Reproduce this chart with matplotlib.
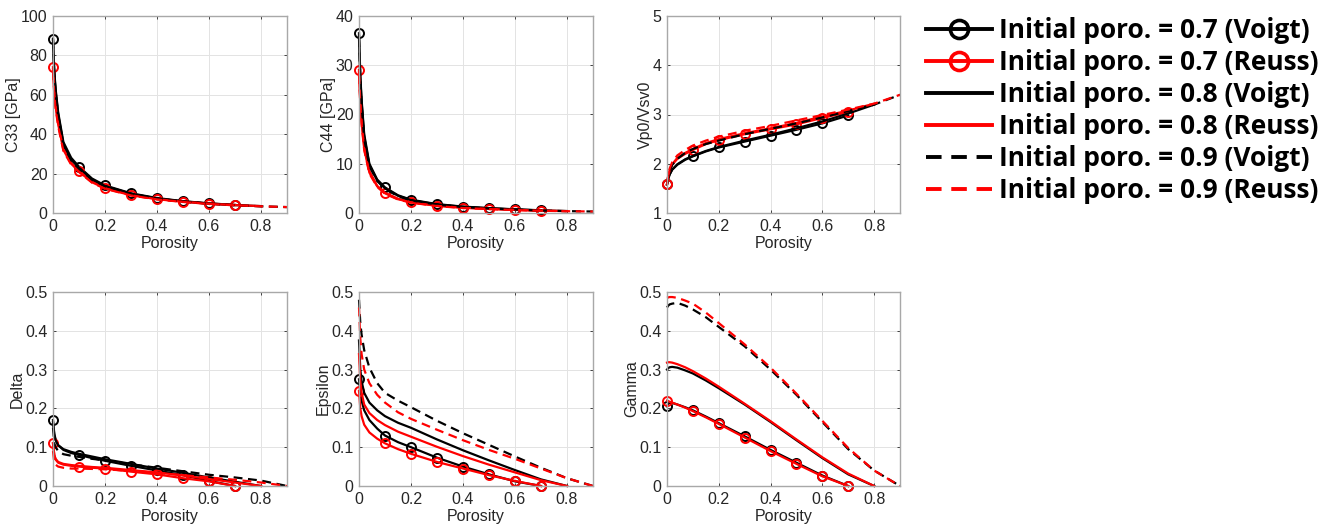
import numpy as np
import matplotlib
matplotlib.use("Agg")
import matplotlib.pyplot as plt
from matplotlib.lines import Line2D

# ============================ Data ============================
poro = [0, 0.005, 0.01, 0.02, 0.04, 0.07, 0.1, 0.15, 0.2, 0.3, 0.4, 0.5, 0.6, 0.7, 0.8, 0.9]
mark_idx = [0, 6, 8, 9, 10, 11, 12, 13]   # markers at 0, 0.1, ..., 0.7

labels = ["Initial poro. = 0.7 (Voigt)", "Initial poro. = 0.7 (Reuss)",
          "Initial poro. = 0.8 (Voigt)", "Initial poro. = 0.8 (Reuss)",
          "Initial poro. = 0.9 (Voigt)", "Initial poro. = 0.9 (Reuss)"]

# C33 [GPa]
c33_v7 = [88.5, 72, 63, 51, 36, 28, 23.5, 17.5, 14, 10, 7.6, 6.0, 4.9, 4.1]
c33_r7 = [74, 62, 55, 46, 33, 25.5, 21.5, 16, 12.8, 9.2, 7.1, 5.8, 4.8, 4.1]
c33_v8 = [88, 71, 62, 50, 35, 27, 23, 17, 13.7, 9.8, 7.4, 5.9, 4.8, 4.0, 3.5]
c33_r8 = [73, 61, 54, 45, 32, 25, 21, 15.6, 12.5, 9.0, 7.0, 5.7, 4.7, 4.0, 3.5]
c33_v9 = [88, 70, 61, 49, 34.5, 26.5, 22.5, 16.8, 13.5, 9.7, 7.3, 5.8, 4.7, 3.9, 3.4, 3.0]
c33_r9 = [72, 60, 53, 44, 31.5, 24.5, 20.8, 15.4, 12.3, 8.9, 6.9, 5.6, 4.6, 3.9, 3.4, 3.0]

# C44 [GPa]
c44_v7 = [36.5, 28, 23, 16, 10, 6.8, 5.2, 3.6, 2.7, 1.8, 1.3, 1.0, 0.75, 0.55]
c44_r7 = [29, 23, 19, 13.5, 8.5, 5.5, 4.1, 2.9, 2.2, 1.5, 1.1, 0.85, 0.65, 0.5]
c44_v8 = [36, 27.5, 22.5, 15.5, 9.7, 6.6, 5.0, 3.5, 2.6, 1.75, 1.25, 0.95, 0.72, 0.52, 0.4]
c44_r8 = [28.5, 22.5, 18.5, 13, 8.2, 5.4, 4.0, 2.8, 2.15, 1.45, 1.05, 0.82, 0.62, 0.48, 0.38]
c44_v9 = [35.5, 27, 22, 15, 9.5, 6.5, 4.9, 3.4, 2.55, 1.7, 1.2, 0.92, 0.7, 0.5, 0.38, 0.3]
c44_r9 = [28, 22, 18, 12.8, 8.0, 5.3, 3.9, 2.75, 2.1, 1.4, 1.0, 0.8, 0.6, 0.46, 0.36, 0.3]

# Vp0/Vsv0
vpvs_v7 = [1.58, 1.7, 1.78, 1.88, 1.98, 2.08, 2.15, 2.25, 2.33, 2.45, 2.57, 2.69, 2.82, 2.98]
vpvs_r7 = [1.58, 1.75, 1.85, 1.98, 2.1, 2.2, 2.28, 2.4, 2.48, 2.6, 2.7, 2.8, 2.93, 3.05]
vpvs_v8 = [1.58, 1.7, 1.78, 1.88, 1.99, 2.09, 2.16, 2.26, 2.34, 2.47, 2.59, 2.72, 2.86, 3.02, 3.2]
vpvs_r8 = [1.58, 1.76, 1.86, 1.99, 2.12, 2.22, 2.3, 2.42, 2.5, 2.62, 2.72, 2.83, 2.96, 3.08, 3.22]
vpvs_v9 = [1.58, 1.75, 1.85, 1.98, 2.1, 2.22, 2.3, 2.4, 2.47, 2.6, 2.71, 2.82, 2.94, 3.07, 3.2, 3.4]
vpvs_r9 = [1.58, 1.78, 1.9, 2.03, 2.17, 2.28, 2.37, 2.47, 2.55, 2.67, 2.77, 2.88, 2.99, 3.1, 3.22, 3.4]

# Delta
delta_v7 = [0.17, 0.135, 0.12, 0.105, 0.093, 0.085, 0.08, 0.072, 0.065, 0.052, 0.04, 0.028, 0.013, 0.0]
delta_r7 = [0.11, 0.08, 0.068, 0.06, 0.055, 0.052, 0.05, 0.047, 0.045, 0.037, 0.03, 0.02, 0.012, 0.0]
delta_v8 = [0.165, 0.13, 0.118, 0.105, 0.095, 0.088, 0.083, 0.076, 0.069, 0.057, 0.045, 0.034, 0.022, 0.011, 0.0]
delta_r8 = [0.11, 0.08, 0.07, 0.062, 0.057, 0.054, 0.052, 0.049, 0.047, 0.041, 0.035, 0.027, 0.018, 0.009, 0.0]
delta_v9 = [0.15, 0.11, 0.1, 0.09, 0.082, 0.078, 0.075, 0.07, 0.066, 0.056, 0.047, 0.038, 0.029, 0.022, 0.014, 0.0]
delta_r9 = [0.09, 0.06, 0.055, 0.05, 0.047, 0.045, 0.045, 0.044, 0.043, 0.039, 0.034, 0.028, 0.022, 0.016, 0.009, 0.0]

# Epsilon
eps_v7 = [0.275, 0.24, 0.22, 0.195, 0.17, 0.148, 0.13, 0.113, 0.1, 0.073, 0.05, 0.03, 0.012, 0.0]
eps_r7 = [0.245, 0.2, 0.18, 0.158, 0.138, 0.122, 0.11, 0.095, 0.083, 0.062, 0.045, 0.028, 0.013, 0.0]
eps_v8 = [0.375, 0.3, 0.27, 0.24, 0.215, 0.195, 0.18, 0.163, 0.15, 0.12, 0.092, 0.066, 0.041, 0.017, 0.0]
eps_r8 = [0.34, 0.27, 0.24, 0.21, 0.188, 0.17, 0.157, 0.14, 0.127, 0.101, 0.077, 0.055, 0.035, 0.015, 0.0]
eps_v9 = [0.48, 0.42, 0.39, 0.35, 0.305, 0.265, 0.24, 0.22, 0.203, 0.168, 0.136, 0.106, 0.076, 0.047, 0.02, 0.0]
eps_r9 = [0.46, 0.38, 0.34, 0.3, 0.265, 0.235, 0.215, 0.19, 0.173, 0.145, 0.118, 0.093, 0.07, 0.045, 0.02, 0.0]

# Gamma
gam_v7 = [0.205, 0.212, 0.214, 0.214, 0.21, 0.203, 0.195, 0.179, 0.162, 0.128, 0.093, 0.06, 0.027, 0.0]
gam_r7 = [0.22, 0.219, 0.217, 0.215, 0.21, 0.202, 0.193, 0.177, 0.16, 0.125, 0.09, 0.057, 0.025, 0.0]
gam_v8 = [0.30, 0.304, 0.306, 0.307, 0.305, 0.298, 0.29, 0.272, 0.252, 0.21, 0.165, 0.118, 0.072, 0.03, 0.0]
gam_r8 = [0.318, 0.319, 0.319, 0.318, 0.314, 0.306, 0.296, 0.277, 0.256, 0.212, 0.167, 0.12, 0.074, 0.032, 0.0]
gam_v9 = [0.46, 0.465, 0.468, 0.47, 0.472, 0.465, 0.455, 0.435, 0.41, 0.36, 0.3, 0.235, 0.165, 0.095, 0.04, 0.0]
gam_r9 = [0.485, 0.486, 0.487, 0.487, 0.485, 0.478, 0.47, 0.447, 0.42, 0.365, 0.305, 0.238, 0.168, 0.098, 0.04, 0.0]

panels = [
    ("C33 [GPa]", (0, 100), [0, 20, 40, 60, 80, 100], [c33_v7, c33_r7, c33_v8, c33_r8, c33_v9, c33_r9]),
    ("C44 [GPa]", (0, 40), [0, 10, 20, 30, 40], [c44_v7, c44_r7, c44_v8, c44_r8, c44_v9, c44_r9]),
    ("Vp0/Vsv0", (1, 5), [1, 2, 3, 4, 5], [vpvs_v7, vpvs_r7, vpvs_v8, vpvs_r8, vpvs_v9, vpvs_r9]),
    ("Delta", (0, 0.5), [0, 0.1, 0.2, 0.3, 0.4, 0.5], [delta_v7, delta_r7, delta_v8, delta_r8, delta_v9, delta_r9]),
    ("Epsilon", (0, 0.5), [0, 0.1, 0.2, 0.3, 0.4, 0.5], [eps_v7, eps_r7, eps_v8, eps_r8, eps_v9, eps_r9]),
    ("Gamma", (0, 0.5), [0, 0.1, 0.2, 0.3, 0.4, 0.5], [gam_v7, gam_r7, gam_v8, gam_r8, gam_v9, gam_r9]),
]

# ============================ Styles =============================
colors = ["black", "red", "black", "red", "black", "red"]
dashed = (0, (4, 2.5))
styles = ["-", "-", "-", "-", dashed, dashed]
with_markers = [True, True, False, False, False, False]

W, H = 1334, 526
# axes boxes in pixels: left, top, right, bottom
boxes = [(53, 16, 287, 213), (359, 16, 593, 213), (667, 16, 900, 213),
         (53, 292, 287, 486), (359, 292, 593, 486), (667, 292, 900, 486)]

plt.rcParams["font.family"] = ["Liberation Sans", "DejaVu Sans"]
fig = plt.figure(figsize=(W / 100, H / 100), dpi=100)

for (ylabel, ylim, yticks, series), (l, t, r, b) in zip(panels, boxes):
    ax = fig.add_axes([l / W, 1 - b / H, (r - l) / W, (b - t) / H])
    for vals, c, ls, mk in zip(series, colors, styles, with_markers):
        x = poro[:len(vals)]
        if mk:
            ax.plot(x, vals, color=c, ls=ls, lw=1.6, marker="o", ms=6.5, mfc="none",
                    mew=1.4, markevery=mark_idx, clip_on=False)
        else:
            ax.plot(x, vals, color=c, ls=ls, lw=1.6, clip_on=False)
    ax.set_xlim(0, 0.9)
    ax.set_ylim(*ylim)
    ax.set_xticks([0, 0.2, 0.4, 0.6, 0.8])
    ax.set_xticklabels(["0", "0.2", "0.4", "0.6", "0.8"])
    ax.set_yticks(yticks)
    ax.set_yticklabels([("%g" % v) for v in yticks])
    ax.set_xlabel("Porosity", fontsize=11.5, color="#262626", labelpad=2)
    ax.set_ylabel(ylabel, fontsize=11.5, color="#262626", labelpad=0)
    ax.grid(True, color="#e3e3e3", lw=0.7)
    ax.set_axisbelow(True)
    ax.tick_params(direction="in", length=2.5, width=0.6, labelsize=11.5,
                   colors="#262626", pad=4, top=True, right=True)
    for sp in ax.spines.values():
        sp.set_color("#a8a8a8")
        sp.set_linewidth(1.0)

# Legend
handles = []
for c, ls, mk in zip(colors, styles, with_markers):
    handles.append(Line2D([], [], color=c, ls=ls, lw=2.8,
                          marker="o" if mk else None, ms=13, mfc="none", mew=2.6))
fig.legend(handles, labels, loc="upper left", bbox_to_anchor=(926 / W, 1 - 17 / H),
           frameon=False, handlelength=2.5, handletextpad=0.27, labelspacing=0.19,
           borderpad=0, borderaxespad=0,
           prop={"family": ["Open Sans", "DejaVu Sans"], "weight": "bold", "size": 19})

fig.savefig("out.png", dpi=100)
